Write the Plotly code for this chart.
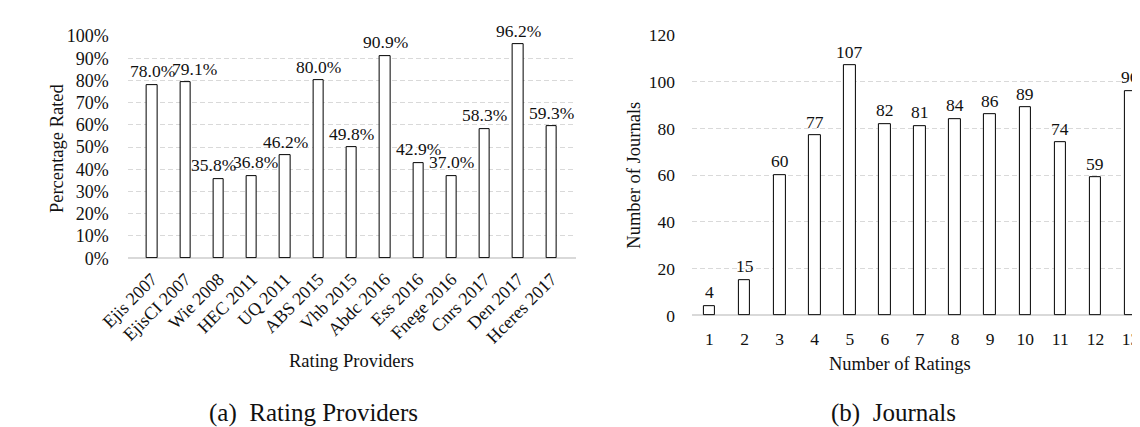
import plotly.graph_objects as go

# ---------------- data ----------------
providers = ["Ejis 2007", "EjisCI 2007", "Wie 2008", "HEC 2011", "UQ 2011", "ABS 2015",
             "Vhb 2015", "Abdc 2016", "Ess 2016", "Fnege 2016", "Cnrs 2017", "Den 2017",
             "Hceres 2017"]
pct_rated = [78.0, 79.1, 35.8, 36.8, 46.2, 80.0, 49.8, 90.9, 42.9, 37.0, 58.3, 96.2, 59.3]

num_ratings = [1, 2, 3, 4, 5, 6, 7, 8, 9, 10, 11, 12, 13]
num_journals = [4, 15, 60, 77, 107, 82, 81, 84, 86, 89, 74, 59, 96]

pct_ticks = [0, 10, 20, 30, 40, 50, 60, 70, 80, 90, 100]
journal_ticks = [0, 20, 40, 60, 80, 100, 120]

# small horizontal nudges of crowded data labels (as in the original chart)
label_nudge = {"EjisCI 2007": 9, "Wie 2008": -5, "HEC 2011": 4}

# ---------------- layout helpers ----------------
W, H = 1140, 427
def px(x):
    return x / W
def py(y):
    return 1 - y / H

FONT = "Liberation Serif"
TXT = "#111111"
GRID = "#d9d9d9"

fig = go.Figure()

fig.add_trace(go.Bar(
    x=providers, y=pct_rated, xaxis="x", yaxis="y",
    marker=dict(color="white", line=dict(color="black", width=1)),
    width=0.31, showlegend=False, hoverinfo="x+y",
))
fig.add_trace(go.Bar(
    x=num_ratings, y=num_journals, xaxis="x2", yaxis="y2",
    marker=dict(color="white", line=dict(color="black", width=1)),
    width=0.33, showlegend=False, hoverinfo="x+y",
))

annotations = []
for c, v in zip(providers, pct_rated):
    annotations.append(dict(x=c, y=v, xref="x", yref="y", text=f"{v:.1f}%",
                            showarrow=False, yanchor="middle", yshift=14,
                            xshift=label_nudge.get(c, 0),
                            font=dict(family=FONT, size=17.5, color=TXT)))
for c, v in zip(num_ratings, num_journals):
    annotations.append(dict(x=c, y=v, xref="x2", yref="y2", text=str(v),
                            showarrow=False, yanchor="middle", yshift=14,
                            font=dict(family=FONT, size=17.5, color=TXT)))

# axis titles and captions
annotations += [
    dict(x=px(20), y=py(136), xref="paper", yref="paper", text="Percentage Rated",
         textangle=-90, showarrow=False, xanchor="center", yanchor="middle",
         font=dict(family=FONT, size=18.5, color=TXT)),
    dict(x=px(323), y=py(360), xref="paper", yref="paper", text="Rating Providers",
         showarrow=False, xanchor="center", yanchor="middle",
         font=dict(family=FONT, size=18.5, color=TXT)),
    dict(x=px(613), y=py(165), xref="paper", yref="paper", text="Number of Journals",
         textangle=-90, showarrow=False, xanchor="center", yanchor="middle",
         font=dict(family=FONT, size=18.5, color=TXT)),
    dict(x=px(886), y=py(363), xref="paper", yref="paper", text="Number of Ratings",
         showarrow=False, xanchor="center", yanchor="middle",
         font=dict(family=FONT, size=18.5, color=TXT)),
    dict(x=px(284), y=py(414), xref="paper", yref="paper", text="(a)  Rating Providers",
         showarrow=False, xanchor="center", yanchor="middle",
         font=dict(family=FONT, size=25, color=TXT)),
    dict(x=px(879), y=py(414), xref="paper", yref="paper", text="(b)  Journals",
         showarrow=False, xanchor="center", yanchor="middle",
         font=dict(family=FONT, size=25, color=TXT)),
]

right_left = 672
right_spacing = 36.0
right_max = 0.5 + (W - right_left) / right_spacing

fig.update_layout(
    width=W, height=H,
    margin=dict(l=0, r=0, t=0, b=0),
    paper_bgcolor="white", plot_bgcolor="white",
    bargap=0.0,
    font=dict(family=FONT, color=TXT),
    annotations=annotations,
    xaxis=dict(domain=[px(93), px(553)], anchor="y", type="category",
               tickangle=-45, tickfont=dict(family=FONT, size=18, color=TXT),
               showgrid=False, showline=False, ticks="", ticklabelstandoff=6),
    yaxis=dict(domain=[py(252), py(19)], anchor="x", range=[0, 100],
               tickvals=pct_ticks, ticktext=[f"{t}%" for t in pct_ticks],
               tickfont=dict(family=FONT, size=18, color=TXT),
               showgrid=True, gridcolor=GRID, griddash="5px,3px", gridwidth=1,
               zeroline=True, zerolinecolor=GRID, zerolinewidth=1.5,
               showline=False, ticks="", ticklabelstandoff=18),
    xaxis2=dict(domain=[px(right_left), 1], anchor="y2", range=[0.5, right_max],
                tickvals=num_ratings, tickfont=dict(family=FONT, size=17.5, color=TXT),
                showgrid=False, showline=False, ticks="", ticklabelstandoff=11),
    yaxis2=dict(domain=[py(312), py(18)], anchor="x2", range=[0, 120],
                tickvals=journal_ticks,
                tickfont=dict(family=FONT, size=17.5, color=TXT),
                showgrid=True, gridcolor=GRID, griddash="5px,3px", gridwidth=1,
                zeroline=True, zerolinecolor=GRID, zerolinewidth=1.5,
                showline=False, ticks="", ticklabelstandoff=16),
)

fig.write_html("out.html")
